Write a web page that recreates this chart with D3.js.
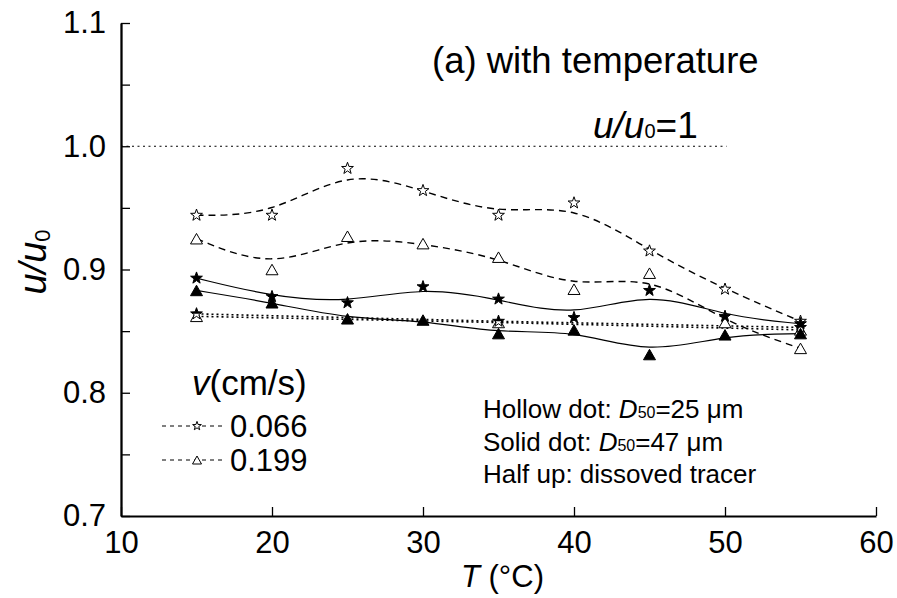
<!DOCTYPE html>
<html>
<head>
<meta charset="utf-8">
<script src="https://cdn.jsdelivr.net/npm/d3@7"></script>
<style>
  html, body { margin: 0; padding: 0; background: #fff; }
  svg { display: block; font-family: "Liberation Sans", Arial, sans-serif; }
</style>
</head>
<body>
<svg id="chart" width="897" height="598"></svg>
<script>
// Temperature (°C) at which each run was measured
const temps = [15, 20, 25, 30, 35, 40, 45, 50, 55];

// u/u0 — fine particles (D50 = 25 µm), hollow markers
const hollowStar = [0.944, 0.944, 0.982, 0.964, 0.944, 0.954, 0.915, 0.884, 0.858]; // v = 0.066 cm/s
const hollowTri  = [0.925, 0.900, 0.927, 0.921, 0.910, 0.884, 0.897, 0.857, 0.836]; // v = 0.199 cm/s

// u/u0 — coarse particles (D50 = 47 µm), solid markers
const solidStar = [0.893, 0.878, 0.873, 0.886, 0.876, 0.861, 0.883, 0.862, 0.856];
const solidTri  = [0.883, 0.873, 0.860, 0.859, 0.848, 0.851, 0.831, 0.847, 0.848];

// u/u0 — dissolved tracer, half-filled markers
const dissolvedTemps = [15, 35, 55];
const dissolvedStar  = [0.864, 0.858, 0.853];
const dissolvedTri   = [0.862, 0.857, 0.851];

// Axis ticks
const xTicks = [10, 20, 30, 40, 50, 60];
const yTicks = [0.7, 0.8, 0.9, 1.0, 1.1];
const yMinorTicks = [0.75, 0.85, 0.95, 1.05];

const legendItems = [
  { label: "0.066", shape: "star" },
  { label: "0.199", shape: "tri" }
];

const svg = d3.select("#chart");
const W = 897, H = 598;
const margin = { left: 121, top: 23, right: 21, bottom: 82 };

const x = d3.scaleLinear().domain([10, 60]).range([margin.left, W - margin.right]);
const y = d3.scaleLinear().domain([0.7, 1.1]).range([H - margin.bottom, margin.top]);

// ---- marker shapes -------------------------------------------------------
function starPath(R) {
  const r = R * 0.4, pts = [];
  for (let k = 0; k < 10; k++) {
    const a = -Math.PI / 2 + k * Math.PI / 5;
    const rad = k % 2 === 0 ? R : r;
    pts.push([rad * Math.cos(a), rad * Math.sin(a)]);
  }
  return "M" + pts.map(p => p[0].toFixed(2) + "," + p[1].toFixed(2)).join("L") + "Z";
}
function triPath(w, h) {
  return `M0,${-h / 2}L${w / 2},${h / 2}L${-w / 2},${h / 2}Z`;
}
const shapes = {
  star: starPath(6.2),
  tri: triPath(12, 10.5),
  starSmall: starPath(4.6),
  triSmall: triPath(9, 8)
};

const defs = svg.append("defs");
defs.append("clipPath").attr("id", "upperHalf")
  .append("rect").attr("x", -10).attr("y", -10).attr("width", 20).attr("height", 10);

// ---- reference line u/u0 = 1 ---------------------------------------------
svg.append("line")
  .attr("x1", x(10)).attr("x2", x(50.1))
  .attr("y1", y(1.0)).attr("y2", y(1.0))
  .attr("stroke", "#000").attr("stroke-width", 1)
  .attr("stroke-dasharray", "2,3.5");

// ---- curves --------------------------------------------------------------
const smooth = d3.line().x(d => x(d[0])).y(d => y(d[1])).curve(d3.curveBasis);
const straight = d3.line().x(d => x(d[0])).y(d => y(d[1]));

const zipT = vals => temps.map((t, i) => [t, vals[i]]);
const zipD = vals => dissolvedTemps.map((t, i) => [t, vals[i]]);

const curves = svg.append("g").attr("fill", "none").attr("stroke", "#000");
curves.append("path").attr("d", smooth(zipT(hollowStar))).attr("stroke-width", 1.4).attr("stroke-dasharray", "7,5");
curves.append("path").attr("d", smooth(zipT(hollowTri))).attr("stroke-width", 1.4).attr("stroke-dasharray", "7,5");
curves.append("path").attr("d", smooth(zipT(solidStar))).attr("stroke-width", 1.2);
curves.append("path").attr("d", smooth(zipT(solidTri))).attr("stroke-width", 1.2);
curves.append("path").attr("d", straight(zipD(dissolvedStar))).attr("stroke-width", 1.6).attr("stroke-dasharray", "2,3");
curves.append("path").attr("d", straight(zipD(dissolvedTri))).attr("stroke-width", 1.6).attr("stroke-dasharray", "2,3");

// ---- markers -------------------------------------------------------------
function drawMarkers(data, shape, style) {
  const g = svg.append("g");
  const m = g.selectAll("g").data(data).join("g")
    .attr("transform", d => `translate(${x(d[0])},${y(d[1])})`);
  if (style === "half") {
    m.append("path").attr("d", shapes[shape]).attr("fill", "#fff")
      .attr("stroke", "#000").attr("stroke-width", 1);
    m.append("path").attr("d", shapes[shape]).attr("fill", "#000")
      .attr("clip-path", "url(#upperHalf)");
  } else {
    m.append("path").attr("d", shapes[shape])
      .attr("fill", style === "solid" ? "#000" : "#fff")
      .attr("stroke", "#000").attr("stroke-width", 1);
  }
}
drawMarkers(zipD(dissolvedTri), "tri", "half");
drawMarkers(zipD(dissolvedStar), "star", "half");
drawMarkers(zipT(hollowTri), "tri", "hollow");
drawMarkers(zipT(hollowStar), "star", "hollow");
drawMarkers(zipT(solidTri), "tri", "solid");
drawMarkers(zipT(solidStar), "star", "solid");

// ---- axes ----------------------------------------------------------------
const xAxis = d3.axisBottom(x).tickValues(xTicks).tickFormat(d3.format("d"))
  .tickSizeInner(-9).tickSizeOuter(0).tickPadding(15);
const yAxis = d3.axisLeft(y).tickValues(yTicks).tickFormat(d3.format(".1f"))
  .tickSizeInner(-9).tickSizeOuter(0).tickPadding(15);
const yMinor = d3.axisLeft(y).tickValues(yMinorTicks).tickFormat("")
  .tickSizeInner(-9).tickSizeOuter(0);

function styleAxis(g) {
  g.select(".domain").attr("stroke", "#000").attr("stroke-width", 1.8);
  g.selectAll(".tick line").attr("stroke", "#000").attr("stroke-width", 1.3);
  g.selectAll(".tick text").attr("fill", "#000")
    .style("font-family", "'Liberation Sans', Arial, sans-serif").style("font-size", "31px");
}
svg.append("g").attr("transform", `translate(0,${y(0.7)})`).call(xAxis).call(styleAxis);
svg.append("g").attr("transform", `translate(${x(10)},0)`).call(yMinor).call(styleAxis);
svg.append("g").attr("transform", `translate(${x(10)},0)`).call(yAxis).call(styleAxis);

// ---- axis titles ---------------------------------------------------------
const xTitle = svg.append("text")
  .attr("x", (x(10) + x(60)) / 2 + 4).attr("y", 587)
  .attr("text-anchor", "middle").style("font-size", "31px");
xTitle.append("tspan").attr("font-style", "italic").text("T");
xTitle.append("tspan").text(" (°C)");

const yTitle = svg.append("text")
  .attr("transform", "translate(46,262) rotate(-90)")
  .attr("text-anchor", "middle").style("font-size", "38px");
yTitle.append("tspan").attr("font-style", "italic").text("u/u");
yTitle.append("tspan").style("font-size", "22px").attr("dy", 4).text("0");

// ---- annotations ---------------------------------------------------------
svg.append("text").attr("x", 432).attr("y", 73)
  .style("font-size", "36.5px").text("(a) with temperature");

const refLabel = svg.append("text").attr("x", 593).attr("y", 138).style("font-size", "37px");
refLabel.append("tspan").attr("font-style", "italic").text("u/u");
refLabel.append("tspan").style("font-size", "20px").text("0");
refLabel.append("tspan").text("=1");

const notes = [
  { pre: "Hollow dot: ", sym: "D", sub: "50", post: "=25 μm" },
  { pre: "Solid dot: ", sym: "D", sub: "50", post: "=47 μm" },
  { pre: "Half up: dissoved tracer" }
];
notes.forEach((n, i) => {
  const t = svg.append("text").attr("x", 483).attr("y", 418 + i * 32.5).style("font-size", "26px");
  t.append("tspan").text(n.pre);
  if (n.sym) {
    t.append("tspan").attr("font-style", "italic").text(n.sym);
    t.append("tspan").style("font-size", "16px").text(n.sub);
    t.append("tspan").text(n.post);
  }
});

// ---- legend --------------------------------------------------------------
const legTitle = svg.append("text").attr("x", 192).attr("y", 395).style("font-size", "35px");
legTitle.append("tspan").attr("font-style", "italic").text("v");
legTitle.append("tspan").text("(cm/s)");

legendItems.forEach((it, i) => {
  const cy = 426 + i * 34;
  svg.append("line").attr("x1", 162).attr("x2", 225).attr("y1", cy).attr("y2", cy)
    .attr("stroke", "#000").attr("stroke-width", 1).attr("stroke-dasharray", "4,4");
  svg.append("path").attr("transform", `translate(197,${cy})`)
    .attr("d", it.shape === "star" ? shapes.starSmall : shapes.triSmall)
    .attr("fill", "#fff").attr("stroke", "#000").attr("stroke-width", 1);
  svg.append("text").attr("x", 230).attr("y", cy + 11).style("font-size", "31px").text(it.label);
});
</script>
</body>
</html>
